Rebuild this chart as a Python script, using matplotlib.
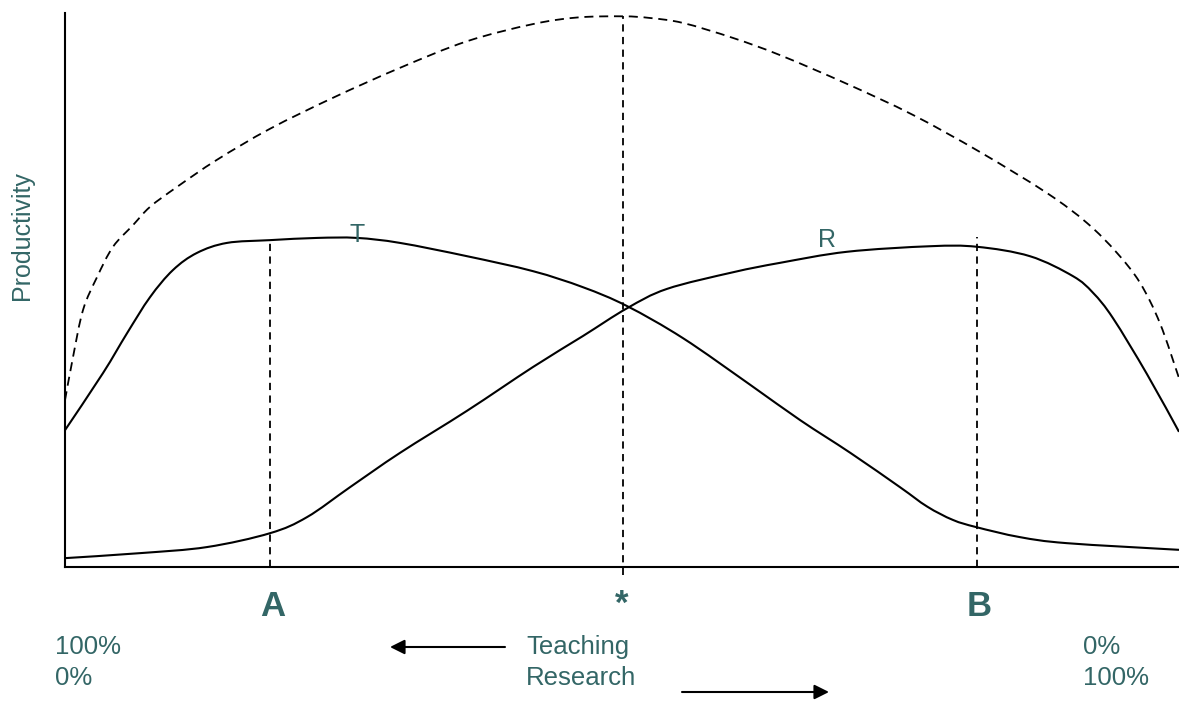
import matplotlib
matplotlib.use("Agg")
import matplotlib.pyplot as plt
from matplotlib.path import Path
from matplotlib.patches import PathPatch

plt.rcParams['font.family'] = ['Liberation Sans', 'DejaVu Sans']

TEAL = '#336666'

# x: share of time spent on research (%), y: productivity (arbitrary 0-100)
t_x = [0, 3.41, 5.57, 7.63, 9.69, 11.85, 14.54, 18.40, 22.62, 26.21, 30.07, 36.09,
       42.01, 46.50, 50.45, 55.48, 61.5, 66.0, 70.5, 74.96, 77.4, 79.7,
       81.8, 85.7, 89.95, 100]
t_y = [24.7, 35.0, 42.2, 48.7, 53.6, 56.7, 58.5, 59.0, 59.4, 59.4, 58.5, 56.1,
       53.4, 50.5, 47.1, 41.3, 32.9, 26.5, 20.6, 14.4, 10.9, 8.5,
       7.2, 5.4, 4.3, 3.1]

r_x = [0, 6.73, 12.75, 18.40, 21.72, 25.58, 30.07, 36.09, 42.01, 46.50, 50.45,
       54.04, 59.96, 64.18, 70.20, 77.65, 81.87, 86.62, 90.48, 92.28, 94.08, 97.13, 100]
r_y = [1.6, 2.5, 3.6, 6.1, 9.0, 14.4, 20.6, 28.2, 36.1, 41.7, 46.7,
       50.2, 53.2, 54.9, 56.9, 57.9, 57.8, 56.1, 52.5, 49.5, 44.9, 34.8, 24.4]

s_x = [0, 0.72, 1.62, 2.87, 4.31, 6.10, 7.63, 10.05, 13.64, 18.40, 24.06, 30.07,
       36.09, 42.01, 46.05, 50.09, 52.51, 55.48, 59.96, 64.18, 70.20, 76.12, 82.14,
       88.15, 91.74, 94.43, 96.50, 98.29, 100]
s_y = [30.1, 37.9, 46.4, 52.3, 57.8, 61.7, 65.0, 68.6, 73.5, 79.1, 84.7, 90.1,
       94.9, 98.0, 99.2, 99.4, 99.1, 98.2, 95.5, 92.4, 87.2, 81.6, 74.9,
       67.5, 62.1, 56.7, 51.3, 44.0, 34.1]

mark_names = ['A', '*', 'B']
mark_x = [18.4, 50.1, 81.9]
mark_top = [59.0, 99.4, 59.6]


def smooth_path(xs, ys):
    """Smooth (Catmull-Rom style) Bezier path through the given points."""
    pts = list(zip(xs, ys))
    n = len(pts)
    verts = [pts[0]]
    codes = [Path.MOVETO]
    for i in range(n - 1):
        p0 = pts[i - 1] if i > 0 else pts[i]
        p1 = pts[i]
        p2 = pts[i + 1]
        p3 = pts[i + 2] if i + 2 < n else pts[i + 1]
        c1 = (p1[0] + (p2[0] - p0[0]) / 6, p1[1] + (p2[1] - p0[1]) / 6)
        c2 = (p2[0] - (p3[0] - p1[0]) / 6, p2[1] - (p3[1] - p1[1]) / 6)
        verts += [c1, c2, p2]
        codes += [Path.CURVE4] * 3
    return Path(verts, codes)


W, H = 1179, 701
fig = plt.figure(figsize=(W / 100, H / 100), dpi=100)
ax = fig.add_axes([65 / W, (H - 567) / H, (1179 - 65) / W, (567 - 13) / H])
ax.set_xlim(0, 100)
ax.set_ylim(0, 100)
for s in ['top', 'right']:
    ax.spines[s].set_visible(False)
for s in ['left', 'bottom']:
    ax.spines[s].set_linewidth(1.5)
ax.set_xticks([])
ax.set_yticks([])
ax.patch.set_alpha(0)

ax.add_patch(PathPatch(smooth_path(t_x, t_y), fill=False, edgecolor='black', lw=1.5,
                       clip_on=False))
ax.add_patch(PathPatch(smooth_path(r_x, r_y), fill=False, edgecolor='black', lw=1.5,
                       clip_on=False))
ax.add_patch(PathPatch(smooth_path(s_x, s_y), fill=False, edgecolor='black', lw=1.3,
                       linestyle=(0, (5, 3.2)), clip_on=False))

for i, (mx, mt) in enumerate(zip(mark_x, mark_top)):
    y0 = -1.5 if mark_names[i] == '*' else 0
    ax.plot([mx, mx], [y0, mt], color='black', lw=1.3, dashes=(4, 3), clip_on=False)

ax.text(26.2, 59.9, 'T', color=TEAL, fontsize=18, ha='center', va='center')
ax.text(68.4, 59.0, 'R', color=TEAL, fontsize=18, ha='center', va='center')


def ftext(x, y, s, **kw):
    fig.text(x / W, 1 - y / H, s, **kw)


ftext(22, 236, 'Productivity', color=TEAL, fontsize=18, rotation=90, ha='center', va='center')
label_px = [273, 622, 979]
label_py = [606, 604, 606]
for name, lx, ly in zip(mark_names, label_px, label_py):
    ftext(lx, ly, name, color=TEAL, fontsize=25, fontweight='bold', ha='center', va='center')

ftext(55, 647, '100%', color=TEAL, fontsize=18.5, ha='left', va='center')
ftext(55, 678, '0%', color=TEAL, fontsize=18.5, ha='left', va='center')
ftext(526, 647, 'Teaching', color=TEAL, fontsize=18.5, ha='left', va='center')
ftext(526, 678, 'Research', color=TEAL, fontsize=18.5, ha='left', va='center')
ftext(1083, 647, '0%', color=TEAL, fontsize=18.5, ha='left', va='center')
ftext(1083, 678, '100%', color=TEAL, fontsize=18.5, ha='left', va='center')

arrow = dict(arrowstyle='-|>', lw=1.5, color='black', mutation_scale=22, shrinkA=0, shrinkB=0)
ax.annotate('', xy=(390 / W, 1 - 647 / H), xytext=(505 / W, 1 - 647 / H),
            xycoords='figure fraction', textcoords='figure fraction', arrowprops=arrow)
ax.annotate('', xy=(829 / W, 1 - 692 / H), xytext=(682 / W, 1 - 692 / H),
            xycoords='figure fraction', textcoords='figure fraction', arrowprops=arrow)

fig.savefig('out.png', dpi=100)
